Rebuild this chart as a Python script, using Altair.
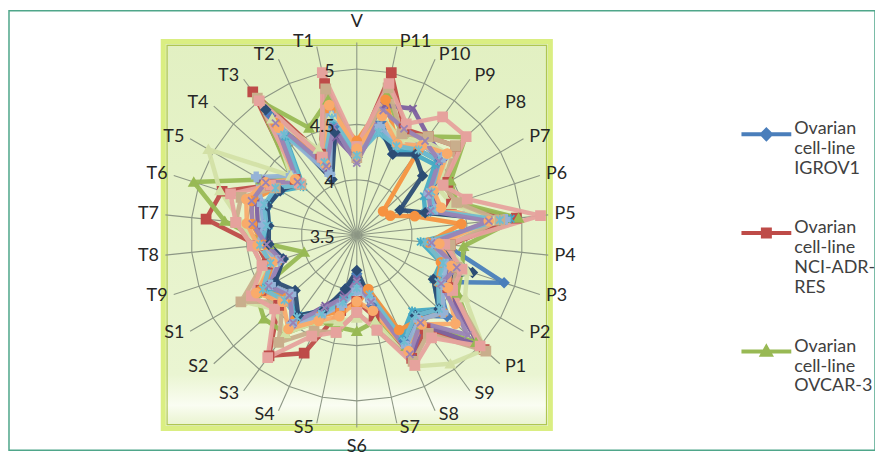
import altair as alt
import pandas as pd

# ---------------- data ----------------
categories = ["V", "P11", "P10", "P9", "P8", "P7", "P6", "P5", "P4", "P3", "P2", "P1",
              "S9", "S8", "S7", "S6", "S5", "S4", "S3", "S2", "S1",
              "T9", "T8", "T7", "T6", "T5", "T4", "T3", "T2", "T1"]

igrov1 = [4.20, 4.55, 4.30, 4.45, 4.50, 4.35, 4.20, 4.85, 4.30, 4.90, 4.35, 4.60, 4.40, 4.55, 4.15,
          3.85, 4.00, 4.30, 4.45, 4.30, 4.40, 4.20, 4.30, 4.35, 4.40, 4.30, 4.20, 4.85, 4.10, 4.50]
nci_adr_res = [4.25, 5.00, 4.55, 4.60, 4.70, 4.45, 4.40, 4.95, 4.35, 4.45, 4.45, 5.05, 4.55, 4.72, 4.25,
               4.10, 4.20, 4.67, 4.85, 4.45, 4.50, 4.35, 4.40, 4.87, 4.78, 4.40, 4.25, 5.10, 4.30, 4.90]
ovcar3 = [4.30, 4.80, 4.50, 4.60, 4.82, 4.48, 4.45, 4.97, 4.47, 4.50, 4.55, 4.95, 4.50, 4.60, 4.30,
          4.37, 4.35, 4.35, 4.60, 4.63, 4.55, 4.00, 4.30, 4.70, 5.05, 4.50, 4.30, 5.00, 4.56, 4.75]
ovcar4 = [4.18, 4.70, 4.75, 4.60, 4.55, 4.30, 4.25, 4.75, 4.15, 4.40, 4.40, 5.00, 4.50, 4.72, 4.10,
          3.90, 4.05, 4.20, 4.50, 4.30, 4.40, 4.20, 4.30, 4.40, 4.45, 4.50, 4.20, 4.80, 4.15, 4.40]
ovcar5 = [4.25, 4.45, 4.35, 4.40, 4.45, 4.20, 4.15, 4.90, 4.08, 4.30, 4.30, 4.50, 4.35, 4.50, 4.00,
          3.95, 4.10, 4.25, 4.40, 4.35, 4.45, 4.30, 4.38, 4.30, 4.35, 4.30, 4.15, 4.60, 4.20, 4.55]
ovcar8 = [4.35, 4.75, 4.40, 4.45, 3.82, 3.85, 4.05, 4.45, 4.15, 4.30, 4.34, 4.55, 4.45, 4.44, 4.00,
          4.13, 4.20, 4.30, 4.45, 4.35, 4.50, 4.25, 4.35, 4.45, 4.50, 4.35, 4.25, 4.75, 4.25, 4.65]
skov3 = [4.20, 4.50, 4.30, 4.40, 4.30, 3.95, 4.15, 4.80, 4.20, 4.60, 4.30, 4.50, 4.40, 4.60, 4.10,
         3.82, 4.00, 4.25, 4.40, 4.25, 4.35, 4.20, 4.30, 4.30, 4.35, 4.30, 4.20, 4.90, 4.05, 4.45]
series8 = [4.30, 4.50, 4.40, 4.50, 4.55, 4.25, 4.25, 4.85, 4.20, 4.35, 4.40, 4.55, 4.45, 4.60, 4.10,
           4.00, 4.15, 4.30, 4.50, 4.30, 4.40, 4.25, 4.40, 4.35, 4.40, 4.55, 4.30, 4.65, 4.10, 4.60]
series9 = [4.25, 4.60, 4.45, 4.55, 4.60, 4.35, 4.40, 4.75, 4.30, 4.55, 4.63, 5.05, 4.94, 4.80, 4.30,
           4.25, 4.30, 4.35, 4.60, 4.50, 4.70, 4.30, 4.40, 4.55, 4.80, 5.05, 4.30, 4.80, 4.35, 4.60]
series10 = [4.20, 4.86, 4.50, 4.60, 4.70, 4.40, 4.45, 4.80, 4.35, 4.45, 4.50, 5.07, 4.60, 4.75, 4.38,
            4.20, 4.40, 4.45, 4.70, 4.40, 4.71, 4.40, 4.45, 4.60, 4.60, 4.35, 4.18, 5.03, 4.27, 4.85]
series11 = [4.30, 4.90, 4.60, 4.82, 4.83, 4.40, 4.55, 5.17, 4.30, 4.50, 4.50, 5.00, 4.65, 4.79, 4.38,
            4.20, 4.40, 4.50, 4.87, 4.50, 4.60, 4.40, 4.45, 4.60, 4.70, 4.40, 4.20, 5.00, 4.27, 5.00]
series12 = [4.28, 4.60, 4.40, 4.50, 4.60, 4.30, 4.30, 4.70, 4.25, 4.40, 4.45, 4.70, 4.50, 4.65, 4.20,
            4.10, 4.25, 4.35, 4.55, 4.40, 4.55, 4.30, 4.40, 4.50, 4.55, 4.45, 4.25, 4.70, 4.20, 4.70]
series13 = [4.22, 4.45, 4.38, 4.45, 4.50, 4.28, 4.22, 4.80, 4.12, 4.32, 4.35, 4.50, 4.40, 4.55, 4.05,
            3.98, 4.12, 4.28, 4.42, 4.38, 4.48, 4.32, 4.38, 4.32, 4.38, 4.35, 4.18, 4.62, 4.22, 4.58]
series14 = [4.15, 4.65, 4.55, 4.55, 4.50, 4.25, 4.20, 4.70, 4.18, 4.45, 4.38, 4.85, 4.48, 4.68, 4.12,
            3.92, 4.08, 4.22, 4.48, 4.32, 4.42, 4.22, 4.32, 4.45, 4.50, 4.45, 4.22, 4.75, 4.18, 4.50]

series_names = ["Ovarian cell-line IGROV1", "Ovarian cell-line NCI-ADR-RES", "Ovarian cell-line OVCAR-3",
                "Ovarian cell-line OVCAR-4", "Ovarian cell-line OVCAR-5", "Ovarian cell-line OVCAR-8",
                "Ovarian cell-line SK-OV-3", "Series 8", "Series 9", "Series 10", "Series 11",
                "Series 12", "Series 13", "Series 14"]
series_values = [igrov1, nci_adr_res, ovcar3, ovcar4, ovcar5, ovcar8, skov3,
                 series8, series9, series10, series11, series12, series13, series14]
series_colors = ["#4A7EBB", "#BE4B48", "#98B954", "#7D60A0", "#46AAC5", "#F69240",
                 "#2C4D75", "#95B3D7", "#D3E0A6", "#C9AE8C", "#E6A29D",
                 "#F9AB6B", "#6FBDD1", "#9983B5"]
X_PATH = "M-0.8,-0.8L0.8,0.8M-0.8,0.8L0.8,-0.8"
STAR_PATH = "M-0.8,-0.8L0.8,0.8M-0.8,0.8L0.8,-0.8M0,-1L0,1"
series_shapes = ["diamond", "square", "triangle-up", X_PATH, STAR_PATH, "circle",
                 "diamond", "cross", "triangle-up", "square", "square",
                 "circle", STAR_PATH, X_PATH]

legend_names = series_names[:3]
legend_colors = series_colors[:3]
legend_paths = ["M-2.5,0L2.5,0M0,-0.45L0.45,0L0,0.45L-0.45,0Z",
                "M-2.5,0L2.5,0M-0.35,-0.35L0.35,-0.35L0.35,0.35L-0.35,0.35Z",
                "M-2.5,0L2.5,0M0,-0.42L0.42,0.32L-0.42,0.32Z"]

grid_levels = [4.0, 4.5, 5.0]
tick_values = [3.5, 4.0, 4.5, 5.0]
AXIS_MIN = 3.5

# ---------------- layout constants ----------------
W, H = 869, 441
K = 111.0              # pixels per value unit
CX, CY = 349.0, 225.0  # centre of the radar inside the view (px)
SPOKE_R = 1.74
LABEL_R = 1.78
FRAME = 1.75
N = len(categories)

xs = alt.Scale(domain=[-CX / K, (W - CX) / K], nice=False, zero=False)
ys = alt.Scale(domain=[-(H - CY) / K, CY / K], nice=False, zero=False)
X = alt.X("x:Q", scale=xs, axis=None)
Y = alt.Y("y:Q", scale=ys, axis=None)

# ---------------- tables ----------------
rows = []
for name, vals in zip(series_names, series_values):
    for k in range(N + 1):
        rows.append({"series": name, "idx": k % N, "ord": k, "value": vals[k % N]})
series_df = pd.DataFrame(rows)

grid_df = pd.DataFrame([{"level": lv, "idx": k % N, "ord": k}
                        for lv in grid_levels for k in range(N + 1)])
cat_df = pd.DataFrame({"cat": categories, "idx": list(range(N))})
tick_df = pd.DataFrame({"tick": tick_values})
frame_df = pd.DataFrame([{"half": FRAME}])

polar = dict(theta=f"datum.idx*2*PI/{N}")

frame = alt.Chart(frame_df).transform_calculate(
    x1="-datum.half", x2="datum.half", y1="-datum.half", y2="datum.half"
).mark_rect(
    fill=alt.Gradient(gradient="linear", x1=0, x2=0, y1=0, y2=1, stops=[
        alt.GradientStop(color="#E2F0C2", offset=0),
        alt.GradientStop(color="#EAF5D2", offset=0.86),
        alt.GradientStop(color="#FAFDF2", offset=0.94),
        alt.GradientStop(color="#E6F2C8", offset=1)]),
    stroke="#DAEE82", strokeWidth=5
).encode(x=alt.X("x1:Q", scale=xs, axis=None), x2="x2:Q",
         y=alt.Y("y1:Q", scale=ys, axis=None), y2="y2:Q")

frame_inner = alt.Chart(frame_df).transform_calculate(
    x1="-datum.half+0.035", x2="datum.half-0.035", y1="-datum.half+0.035", y2="datum.half-0.035"
).mark_rect(fill=None, stroke="#AFC652", strokeWidth=1.2).encode(
    x=alt.X("x1:Q", scale=xs, axis=None), x2="x2:Q",
    y=alt.Y("y1:Q", scale=ys, axis=None), y2="y2:Q")

grid = alt.Chart(grid_df).transform_calculate(**polar).transform_calculate(
    x=f"(datum.level-{AXIS_MIN})*sin(datum.theta)", y=f"(datum.level-{AXIS_MIN})*cos(datum.theta)"
).mark_line(color="#8D9785", strokeWidth=1.1).encode(
    x=X, y=Y, detail="level:N", order="ord:Q")

spokes = alt.Chart(cat_df).transform_calculate(**polar).transform_calculate(
    x0="0", y0="0",
    x=f"{SPOKE_R}*sin(datum.theta)", y=f"{SPOKE_R}*cos(datum.theta)"
).mark_rule(color="#8D9785", strokeWidth=1.1).encode(
    x=alt.X("x0:Q", scale=xs, axis=None), y=alt.Y("y0:Q", scale=ys, axis=None),
    x2="x:Q", y2="y:Q")

label_base = alt.Chart(cat_df).transform_calculate(**polar).transform_calculate(
    s="sin(datum.theta)", c="cos(datum.theta)")
text_style = dict(font="Lato", fontSize=18, color="#262626", baseline="middle")
lab_right = label_base.transform_filter("datum.s > 0.01").transform_calculate(
    x=f"{LABEL_R}*datum.s", y=f"{LABEL_R}*datum.c"
).mark_text(align="left", dx=2, **text_style).encode(x=X, y=Y, text="cat:N")
lab_left = label_base.transform_filter("datum.s < -0.01").transform_calculate(
    x=f"{LABEL_R}*datum.s", y=f"{LABEL_R}*datum.c"
).mark_text(align="right", dx=-2, **text_style).encode(x=X, y=Y, text="cat:N")
lab_top = label_base.transform_filter("abs(datum.s) <= 0.01 && datum.c > 0").transform_calculate(
    x="0", y=f"({LABEL_R}+0.145)*datum.c"
).mark_text(align="center", **text_style).encode(x=X, y=Y, text="cat:N")
lab_bottom = label_base.transform_filter("abs(datum.s) <= 0.01 && datum.c < 0").transform_calculate(
    x="0", y=f"({LABEL_R}+0.135)*datum.c"
).mark_text(align="center", **text_style).encode(x=X, y=Y, text="cat:N")

tick_labels = alt.Chart(tick_df).transform_calculate(
    x="-0.2", y=f"datum.tick-{AXIS_MIN}", lab="format(datum.tick, '.2~f')"
).mark_text(font="Lato", fontSize=18, color="#262626", align="right", baseline="middle", dy=3).encode(
    x=X, y=Y, text="lab:N")

series_base = alt.Chart(series_df).transform_calculate(**polar).transform_calculate(
    x=f"(datum.value-{AXIS_MIN})*sin(datum.theta)", y=f"(datum.value-{AXIS_MIN})*cos(datum.theta)")

lines = series_base.mark_line(strokeWidth=4.5, strokeJoin="round", opacity=0.95).encode(
    x=X, y=Y, order="ord:Q",
    color=alt.Color("series:N", scale=alt.Scale(domain=series_names, range=series_colors), legend=None))

points = series_base.transform_filter(f"datum.ord < {N}").mark_point(
    filled=True, size=80, strokeWidth=1.8, opacity=1).encode(
    x=X, y=Y,
    fill=alt.Fill("series:N", scale=alt.Scale(domain=series_names, range=series_colors), legend=None),
    stroke=alt.Stroke("series:N", scale=alt.Scale(domain=series_names, range=series_colors), legend=None),
    shape=alt.Shape("series:N", scale=alt.Scale(domain=series_names, range=series_shapes), legend=None))

label_expr = ("split(datum.label == 'Ovarian cell-line NCI-ADR-RES' ? "
              "'Ovarian cell-line NCI-ADR- RES' : datum.label, ' ')")
leg = alt.Legend(title=None, orient="none", legendX=748, legendY=112, direction="vertical",
                 labelExpr=label_expr, labelFont="Lato", labelFontSize=18, labelColor="#404040",
                 labelBaseline="alphabetic", labelLimit=300, labelOffset=16,
                 symbolSize=400, symbolStrokeWidth=4, rowPadding=41, padding=0)

legend_layer = series_base.transform_filter("datum.ord < 0").mark_point(filled=True, opacity=1).encode(
    x=X, y=Y,
    fill=alt.Fill("series:N", scale=alt.Scale(domain=legend_names, range=legend_colors), legend=leg),
    stroke=alt.Stroke("series:N", scale=alt.Scale(domain=legend_names, range=legend_colors), legend=leg),
    shape=alt.Shape("series:N", scale=alt.Scale(domain=legend_names, range=legend_paths), legend=leg))

chart = alt.layer(
    frame, frame_inner, grid, spokes, lines, points,
    lab_right, lab_left, lab_top, lab_bottom, tick_labels, legend_layer
).resolve_scale(
    fill="independent", stroke="independent", shape="independent"
).properties(
    width=W, height=H,
    padding={"left": 1, "top": 2, "right": 0, "bottom": 6},
    autosize=alt.AutoSizeParams(type="none"),
    background="white"
).configure_view(stroke="#4FA68A", strokeWidth=1.5)

chart.save("out.html", embed_options={"renderer": "svg", "actions": False})
